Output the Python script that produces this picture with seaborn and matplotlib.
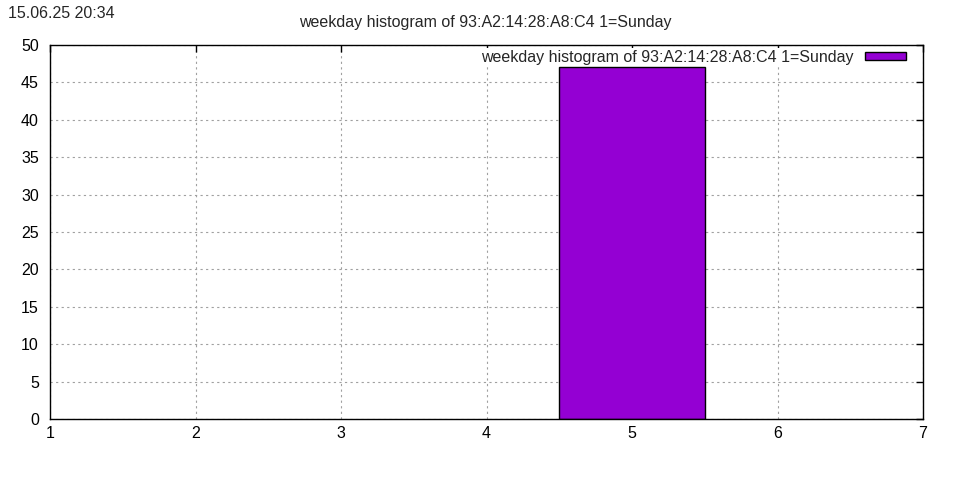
import matplotlib
matplotlib.use("Agg")
from matplotlib import pyplot as plt
import seaborn as sns

# weekday histogram data (1=Sunday)
weekdays = [1, 2, 3, 4, 5, 6, 7]
counts = [0, 0, 0, 0, 47, 0, 0]
title = "weekday histogram of 93:A2:14:28:A8:C4 1=Sunday"
stamp = "15.06.25 20:34"

sns.set_style("white")
plt.rcParams['font.family'] = ['Liberation Sans', 'DejaVu Sans']
fs = 11.5

fig = plt.figure(figsize=(9.6, 4.8), dpi=100)
ax = fig.add_axes([50/960, 1-419/480, 873/960, 374/480])

days = [d for d, c in zip(weekdays, counts) if c > 0]
vals = [c for c in counts if c > 0]
sns.histplot(x=days, weights=vals, discrete=True, shrink=1, color='#9400D3',
             edgecolor='black', linewidth=1, alpha=1, ax=ax, label=title)

ax.set_xlim(1, 7)
ax.set_ylim(0, 50)
ax.set_xticks(range(1, 8))
ax.set_yticks(range(0, 51, 5))
ax.set_xlabel("")
ax.set_ylabel("")
ax.grid(True, linestyle=(0, (2, 3)), color='#a0a0a0', linewidth=0.8)
ax.set_axisbelow(True)
for s in ax.spines.values():
    s.set_color('black')
    s.set_linewidth(1)
ax.tick_params(direction='in', length=5, width=1, top=True, right=True,
               colors='black', labelsize=fs)
ax.tick_params(axis='y', pad=8)
ax.tick_params(axis='x', pad=5)

leg = ax.legend(loc='upper right', markerfirst=False, frameon=True,
                bbox_to_anchor=(908/960, 1-48/480), bbox_transform=fig.transFigure,
                handlelength=2.6, handleheight=0.4, handletextpad=0.7,
                borderaxespad=0, borderpad=0.1, fontsize=fs)
leg.get_frame().set_edgecolor('none')
leg.get_frame().set_facecolor('white')
leg.get_frame().set_alpha(1)

fig.text(485/960, 1-22/480, title, ha='center', va='center', fontsize=fs)
fig.text(8/960, 1-13/480, stamp, ha='left', va='center', fontsize=fs)

fig.savefig("out.png", dpi=100)
